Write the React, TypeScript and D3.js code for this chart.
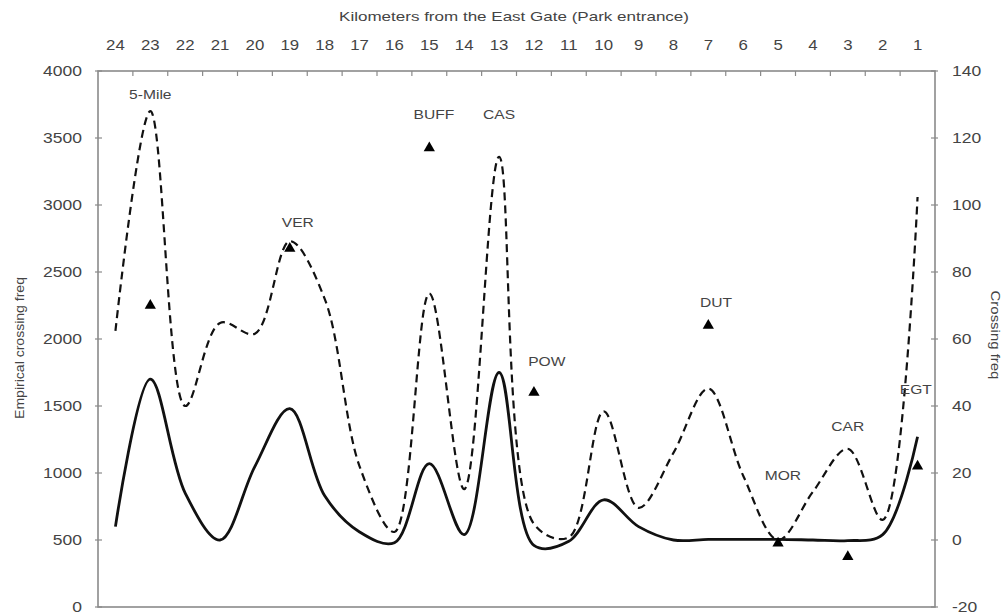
import React from "react";
import * as d3 from "d3";

const kms = [24, 23, 22, 21, 20, 19, 18, 17, 16, 15, 14, 13, 12, 11, 10, 9, 8, 7, 6, 5, 4, 3, 2, 1];
const dashedVals = [2060, 3700, 1500, 2120, 2040, 2730, 2300, 1050, 560, 2340, 880, 3360, 620, 520, 1460, 740, 1150, 1630, 980, 500, 860, 1180, 650, 3060];
const solidVals = [600, 1700, 850, 500, 1050, 1480, 830, 560, 480, 1070, 540, 1750, 460, 490, 800, 600, 500, 505, 505, 505, 500, 495, 540, 1270];

const markerKm = [23, 19, 15, 12, 7, 5, 3, 1];
const markerVals = [70, 87, 117, 44, 64, -1, -5, 22];

const labelNames = ["5-Mile", "VER", "BUFF", "CAS", "POW", "DUT", "MOR", "CAR", "EGT"];
const labelKm = [23, 18.77, 14.87, 13, 11.63, 6.78, 4.86, 3, 1.05];
const labelVals = [133, 94.6, 126.9, 126.9, 53.1, 70.7, 19.1, 33.7, 44.8];

const leftTicks = [0, 500, 1000, 1500, 2000, 2500, 3000, 3500, 4000];
const rightTicks = [-20, 0, 20, 40, 60, 80, 100, 120, 140];

const topTitle = "Kilometers from the East Gate (Park entrance)";
const leftTitle = "Empirical crossing freq";
const rightTitle = "Crossing freq";

const W = 1008, H = 616;
const L = 98, R = 935, T = 71, B = 607;
const FONT = "'Liberation Sans', Arial, sans-serif";
const AXIS = "#8a8a8a";
const TXT = "#444";

function SText(props: any) {
  const { x, y, sx = 1.25, anchor = "middle", size = 13, rotate = 0, children } = props;
  return (
    <text
      transform={`translate(${x},${y}) rotate(${rotate}) scale(${sx},1)`}
      textAnchor={anchor}
      dominantBaseline="central"
      fontFamily={FONT}
      fontSize={size}
      fill={TXT}
    >
      {children}
    </text>
  );
}

export default function App() {
  const x = d3.scaleLinear().domain([24.5, 0.5]).range([L, R]);
  const yL = d3.scaleLinear().domain([0, 4000]).range([B, T]);
  const yR = d3.scaleLinear().domain([-20, 140]).range([B, T]);

  const line = d3
    .line<number>()
    .x((_, i) => x(kms[i]))
    .y((d) => yL(d))
    .curve(d3.curveCatmullRom.alpha(0.5));

  const tri = d3.symbol().type(d3.symbolTriangle).size(55)() as string;

  const bounds = d3.range(23.5, 0.5, -1);

  return (
    <svg width={W} height={H} style={{ position: "absolute", left: 0, top: 0, background: "#fff" }}>
      <rect x={0} y={0} width={W} height={H} fill="#fff" />
      <rect x={L} y={T} width={R - L} height={B - T} fill="none" stroke={AXIS} strokeWidth={1.6} />
      {bounds.map((b) => (
        <line key={b} x1={x(b)} x2={x(b)} y1={T} y2={T + 5} stroke={AXIS} strokeWidth={1.2} />
      ))}
      {kms.map((k) => (
        <SText key={k} x={x(k)} y={45} size={14} sx={1.2}>
          {String(k)}
        </SText>
      ))}
      <SText x={514} y={17} size={12} sx={1.42}>
        {topTitle}
      </SText>
      {leftTicks.map((v) => (
        <g key={v}>
          <line x1={L - 3} x2={L + 4} y1={yL(v)} y2={yL(v)} stroke={AXIS} strokeWidth={1.2} />
          <SText x={82} y={yL(v)} anchor="end" size={14} sx={1.25}>
            {String(v)}
          </SText>
        </g>
      ))}
      <SText x={20} y={348} size={13} sx={1.08} rotate={-90}>
        {leftTitle}
      </SText>
      {rightTicks.map((v) => (
        <g key={v}>
          <line x1={R - 4} x2={R + 3} y1={yR(v)} y2={yR(v)} stroke={AXIS} strokeWidth={1.2} />
          <SText x={952} y={yR(v)} anchor="start" size={14} sx={1.25}>
            {String(v)}
          </SText>
        </g>
      ))}
      <SText x={996} y={335} size={13} sx={1.15} rotate={90}>
        {rightTitle}
      </SText>
      <path d={line(dashedVals) as string} fill="none" stroke="#111" strokeWidth={2.2} strokeDasharray="8,5" />
      <path d={line(solidVals) as string} fill="none" stroke="#111" strokeWidth={2.8} />
      {markerKm.map((k, i) => (
        <path key={k} d={tri} transform={`translate(${x(k)},${yR(markerVals[i])})`} fill="#000" />
      ))}
      {labelNames.map((n, i) => (
        <SText key={n} x={x(labelKm[i])} y={yR(labelVals[i])} size={12} sx={1.3}>
          {n}
        </SText>
      ))}
    </svg>
  );
}
